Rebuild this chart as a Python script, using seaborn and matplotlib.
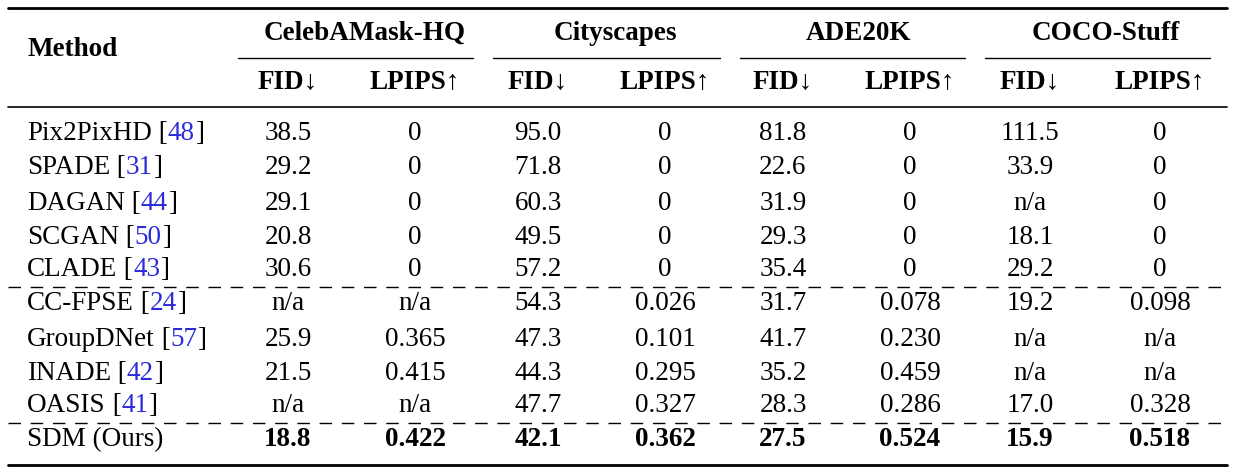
import matplotlib
matplotlib.use("Agg")
import matplotlib.pyplot as plt
import seaborn as sns

sns.set_theme(style="white")
plt.rcParams['font.family'] = ['Liberation Serif', 'DejaVu Serif']
plt.rcParams['text.color'] = 'black'

datasets = ['CelebAMask-HQ', 'Cityscapes', 'ADE20K', 'COCO-Stuff']
metrics = ['FID↓', 'LPIPS↑']
methods = ['Pix2PixHD', 'SPADE', 'DAGAN', 'SCGAN', 'CLADE',
           'CC-FPSE', 'GroupDNet', 'INADE', 'OASIS', 'SDM (Ours)']
cites = ['48', '31', '44', '50', '43', '24', '57', '42', '41', None]
celeba = [('38.5', '0'), ('29.2', '0'), ('29.1', '0'), ('20.8', '0'), ('30.6', '0'),
          ('n/a', 'n/a'), ('25.9', '0.365'), ('21.5', '0.415'), ('n/a', 'n/a'), ('18.8', '0.422')]
city = [('95.0', '0'), ('71.8', '0'), ('60.3', '0'), ('49.5', '0'), ('57.2', '0'),
        ('54.3', '0.026'), ('47.3', '0.101'), ('44.3', '0.295'), ('47.7', '0.327'), ('42.1', '0.362')]
ade = [('81.8', '0'), ('22.6', '0'), ('31.9', '0'), ('29.3', '0'), ('35.4', '0'),
       ('31.7', '0.078'), ('41.7', '0.230'), ('35.2', '0.459'), ('28.3', '0.286'), ('27.5', '0.524')]
coco = [('111.5', '0'), ('33.9', '0'), ('n/a', '0'), ('18.1', '0'), ('29.2', '0'),
        ('19.2', '0.098'), ('n/a', 'n/a'), ('n/a', 'n/a'), ('17.0', '0.328'), ('15.9', '0.518')]
values = [celeba, city, ade, coco]

W, H = 1235, 476
fig = plt.figure(figsize=(W / 100, H / 100), dpi=100)
ax = fig.add_axes([0, 0, 1, 1])
ax.set_xlim(0, W)
ax.set_ylim(H, 0)
ax.axis('off')

fs = 19.5
group_centers = [365, 615, 858, 1106]
col_x = [(288, 415), (538, 665), (783, 910), (1030, 1160)]
group_spans = [(238, 473), (493, 720), (740, 965), (985, 1210)]
row_y = [134, 168, 203, 237, 270, 304, 339, 373, 406, 440]

# rules
ax.plot([8, 1227], [8, 8], color='black', lw=2)
ax.plot([8, 1227], [107, 107], color='black', lw=1.2)
ax.plot([8, 1227], [465, 465], color='black', lw=2)
for y in (287, 423):
    ax.plot([8, 1227], [y, y], color='black', lw=1, ls=(0, (9, 7)))
for a, b in group_spans:
    ax.plot([a, b], [58, 58], color='black', lw=1)

# header
ax.text(27, 49, 'Method', fontsize=fs, fontweight='bold', va='center', ha='left')
for name, cx in zip(datasets, group_centers):
    ax.text(cx, 33, name, fontsize=fs, fontweight='bold', va='center', ha='center')
for xs in col_x:
    for m, x in zip(metrics, xs):
        ax.text(x, 82, m, fontsize=fs, fontweight='bold', va='center', ha='center')

# body
for i, (meth, c, y) in enumerate(zip(methods, cites, row_y)):
    t = ax.text(27, y, meth, fontsize=fs, va='center', ha='left')
    if c is not None:
        t1 = ax.annotate(' [', xy=(1, 0), xycoords=t, fontsize=fs, va='bottom', ha='left')
        t2 = ax.annotate(c, xy=(1, 0), xycoords=t1, fontsize=fs, va='bottom', ha='left',
                         color='#2b2bd9')
        ax.annotate(']', xy=(1, 0), xycoords=t2, fontsize=fs, va='bottom', ha='left')
    bold = 'bold' if i == len(methods) - 1 else 'normal'
    for vals, xs in zip(values, col_x):
        for v, x in zip(vals[i], xs):
            ax.text(x, y, v, fontsize=fs, va='center', ha='center', fontweight=bold)

fig.savefig('out.png', dpi=100, facecolor='white')
